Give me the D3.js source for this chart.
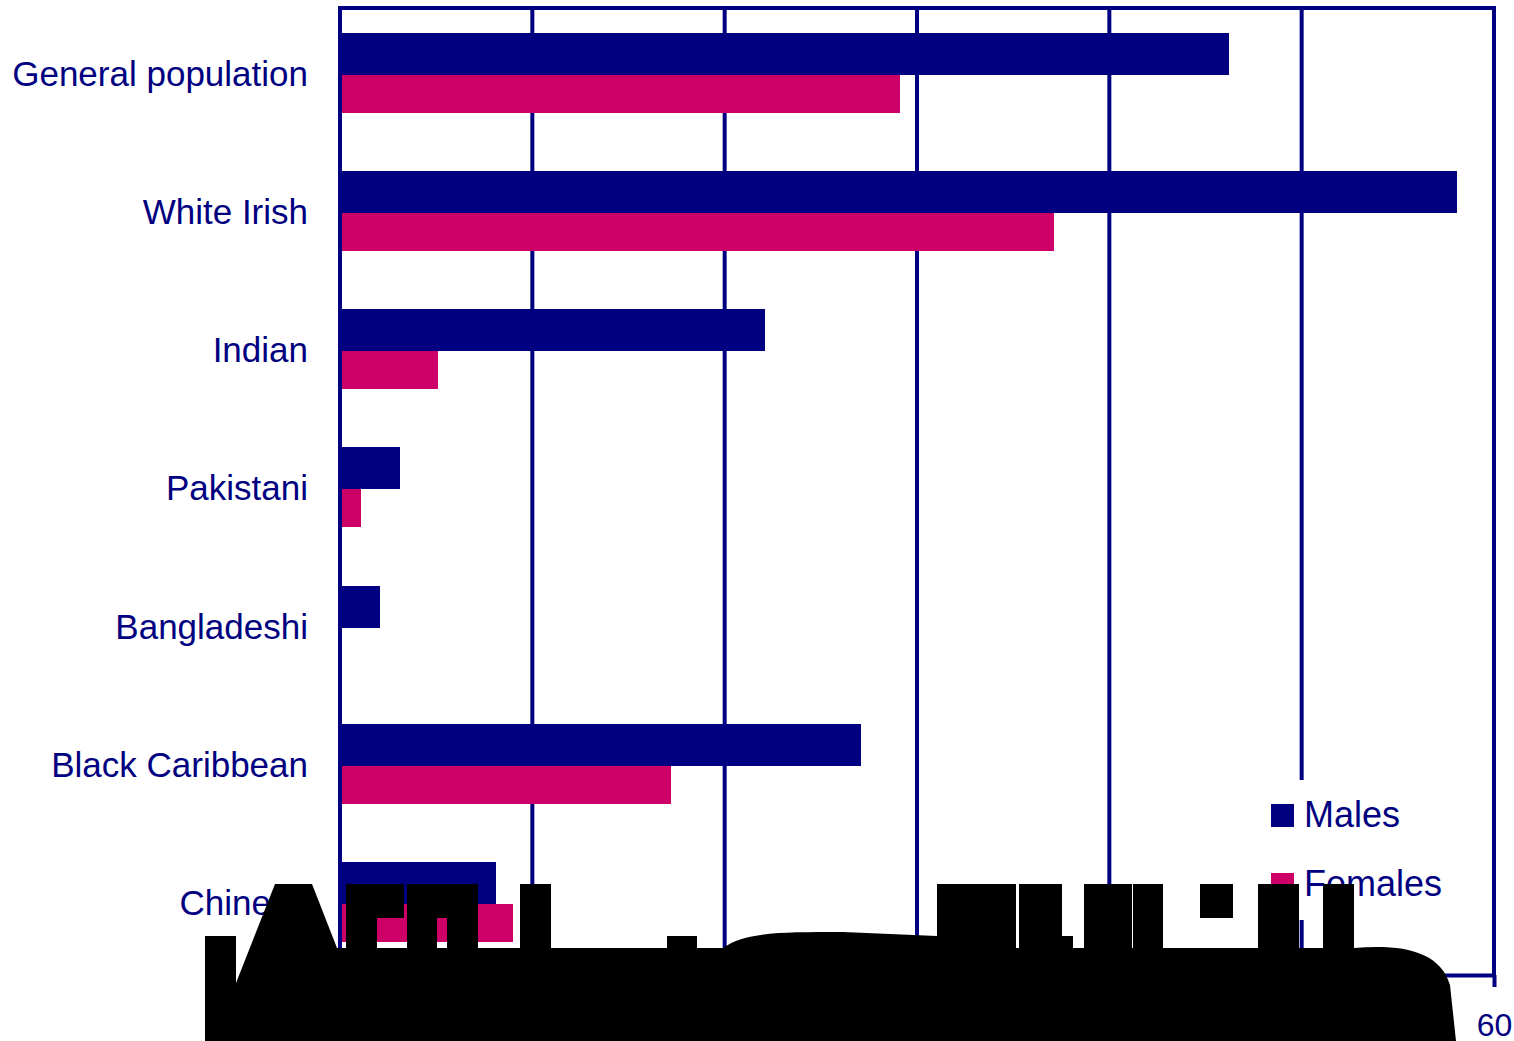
<!DOCTYPE html>
<html>
<head>
<meta charset="utf-8">
<script src="https://cdn.jsdelivr.net/npm/d3@7/dist/d3.min.js"></script>
<style>
  html, body { margin: 0; padding: 0; background: #fff; }
  svg { display: block; }
  text { font-family: "Liberation Sans", Arial, sans-serif; fill: #000080; }
</style>
</head>
<body>
<svg id="chart" width="1514" height="1041"></svg>
<script>
// Ethnic groups, top to bottom
const categories = ["General population", "White Irish", "Indian", "Pakistani", "Bangladeshi", "Black Caribbean", "Chinese"];
// Values per group
const males   = [46.2, 58.1, 22.1, 3.1, 2.1, 27.1, 8.1];
const females = [29.1, 37.1, 5.1, 1.1, 0, 17.2, 9.0];
// Axis ticks and legend entries
const xTicks = [0, 10, 20, 30, 40, 50, 60];
const seriesNames = ["Males", "Females"];

(function () {
  const NAVY = "#000080";
  const PINK = "#CC0066";

  const svg = d3.select("#chart");
  const plotLeft = 340, plotRight = 1494, plotTop = 8, plotBottom = 975;

  const x = d3.scaleLinear().domain([0, 60]).range([plotLeft, plotRight]);
  const y = d3.scaleBand().domain(categories).range([plotTop, plotBottom]).padding(0);
  const color = d3.scaleOrdinal().domain(seriesNames).range([NAVY, PINK]);

  const rows = categories.map((c, i) => ({ c, m: males[i], f: females[i] }));

  // vertical gridlines
  svg.append("g").selectAll("line").data(xTicks.slice(1)).join("line")
    .attr("x1", d => x(d)).attr("x2", d => x(d))
    .attr("y1", plotTop).attr("y2", plotBottom)
    .attr("stroke", NAVY).attr("stroke-width", 4);

  // legend panel (covers the gridline behind it)
  const legend = svg.append("g");
  legend.append("rect").attr("x", 1262).attr("y", 780).attr("width", 188).attr("height", 140).attr("fill", "#fff");
  seriesNames.forEach((s, i) => {
    const yy = 804 + i * 69;
    legend.append("rect").attr("x", 1271).attr("y", yy).attr("width", 23).attr("height", 23)
      .attr("fill", color(s)).attr("shape-rendering", "crispEdges");
    legend.append("text").attr("x", 1304).attr("y", yy + 23).attr("font-size", 36).text(s);
  });

  // bars
  const bars = svg.append("g").attr("shape-rendering", "crispEdges");
  bars.selectAll("rect.m").data(rows).join("rect").attr("class", "m")
    .attr("x", x(0)).attr("y", d => y(d.c) + 25)
    .attr("width", d => x(d.m) - x(0)).attr("height", 42)
    .attr("fill", color("Males"));
  bars.selectAll("rect.f").data(rows.filter(d => d.f > 0)).join("rect").attr("class", "f")
    .attr("x", x(0) + 2).attr("y", d => y(d.c) + 67)
    .attr("width", d => x(d.f) - x(0) - 2).attr("height", 38)
    .attr("fill", color("Females"));

  // frame: left axis line and top edge
  svg.append("line").attr("x1", plotLeft).attr("x2", plotLeft).attr("y1", plotTop - 2).attr("y2", plotBottom + 2)
    .attr("stroke", NAVY).attr("stroke-width", 4);
  svg.append("line").attr("x1", plotLeft - 2).attr("x2", plotRight + 2).attr("y1", plotTop).attr("y2", plotTop)
    .attr("stroke", NAVY).attr("stroke-width", 4);

  // category labels
  svg.append("g").selectAll("text").data(categories).join("text")
    .attr("x", 308).attr("y", d => y(d) + 78)
    .attr("text-anchor", "end").attr("font-size", 35)
    .text(d => d);

  // bottom axis
  const ax = svg.append("g").attr("transform", `translate(0,${plotBottom})`)
    .call(d3.axisBottom(x).tickValues(xTicks).tickSize(12).tickSizeOuter(0));
  ax.select(".domain").attr("stroke", NAVY).attr("stroke-width", 4);
  ax.selectAll(".tick line").attr("stroke", NAVY).attr("stroke-width", 4);
  ax.selectAll(".tick text").attr("y", 61).attr("dy", 0)
    .attr("font-size", 32).attr("font-family", "Liberation Sans, Arial, sans-serif")
    .attr("fill", NAVY);

  // heavy black overlay across the bottom of the chart
  const overlay = svg.append("g").attr("fill", "#000");
  overlay.append("path").attr("d",
    "M205,1041 V936 H236 V983 L275,884 H312 L337,948 H1354 " +
    "C1400,944 1440,950 1450,985 L1456,1041 Z");
  const blocks = [
    [346, 884, 377, 948], [377, 884, 404, 918],
    [407, 884, 437, 948], [437, 884, 447, 918], [447, 884, 478, 948],
    [520, 884, 551, 948], [667, 936, 697, 948],
    [937, 884, 1016, 948], [1019, 884, 1062, 948], [1062, 936, 1073, 948],
    [1084, 884, 1132, 948], [1133, 884, 1163, 948],
    [1200, 884, 1233, 918], [1258, 884, 1299, 948], [1323, 884, 1354, 948]
  ];
  overlay.selectAll("rect").data(blocks).join("rect")
    .attr("x", d => d[0]).attr("y", d => d[1])
    .attr("width", d => d[2] - d[0]).attr("height", d => d[3] - d[1]);
  overlay.append("path").attr("d", "M723,948 C745,932 780,932 843,932 L937,936 V948 Z");
})();
</script>
</body>
</html>
